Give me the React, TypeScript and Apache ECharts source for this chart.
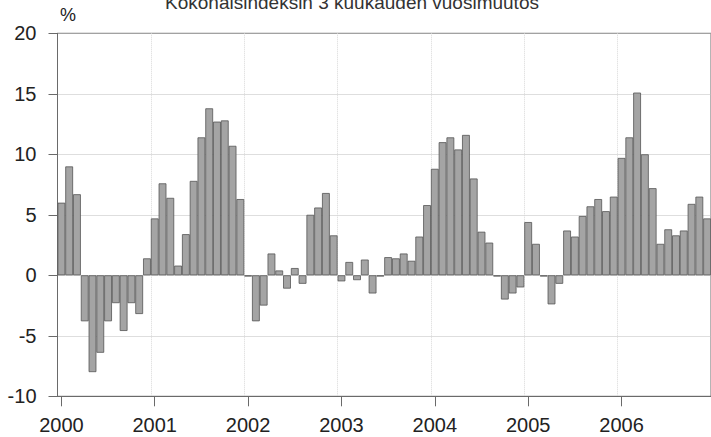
import React, { useEffect, useRef } from "react";
import * as echarts from "echarts";

const years = ["2000", "2001", "2002", "2003", "2004", "2005", "2006"];
const months = ["01", "02", "03", "04", "05", "06", "07", "08", "09", "10", "11", "12"];
const categories: string[] = years.flatMap((y) => months.map((m) => `${y}-${m}`));

const values2000 = [6.0, 9.0, 6.7, -3.8, -8.0, -6.4, -3.8, -2.3, -4.6, -2.3, -3.2, 1.4];
const values2001 = [4.7, 7.6, 6.4, 0.8, 3.4, 7.8, 11.4, 13.8, 12.7, 12.8, 10.7, 6.3];
const values2002 = [-0.1, -3.8, -2.5, 1.8, 0.4, -1.1, 0.6, -0.7, 5.0, 5.6, 6.8, 3.3];
const values2003 = [-0.5, 1.1, -0.4, 1.3, -1.5, -0.1, 1.5, 1.4, 1.8, 1.2, 3.2, 5.8];
const values2004 = [8.8, 11.0, 11.4, 10.4, 11.6, 8.0, 3.6, 2.7, -0.1, -2.0, -1.5, -1.0];
const values2005 = [4.4, 2.6, -0.1, -2.4, -0.7, 3.7, 3.2, 4.9, 5.7, 6.3, 5.3, 6.5];
const values2006 = [9.7, 11.4, 15.1, 10.0, 7.2, 2.6, 3.8, 3.3, 3.7, 5.9, 6.5, 4.7];

const values = [
  ...values2000,
  ...values2001,
  ...values2002,
  ...values2003,
  ...values2004,
  ...values2005,
  ...values2006,
];

const titleText = "Kokonaisindeksin 3 kuukauden vuosimuutos";
const unitText = "%";

const FONT = "'Liberation Sans', Arial, sans-serif";

export default function App() {
  const ref = useRef<HTMLDivElement>(null);
  useEffect(() => {
    if (!ref.current) return;
    const chart = echarts.init(ref.current, null, { renderer: "svg" });
    const isJan = (i: number) => i % 12 === 0;
    chart.setOption({
      animation: false,
      backgroundColor: "#ffffff",
      grid: {
        left: 57.5,
        right: -6,
        top: 33.3,
        bottom: 40.7,
        show: true,
        borderColor: "#6a6a6a",
        borderWidth: 1,
        backgroundColor: "transparent",
      },
      graphic: [
        {
          type: "text",
          x: 352,
          y: 12,
          style: {
            text: titleText,
            font: `19px ${FONT}`,
            fill: "#333",
            align: "center",
            verticalAlign: "bottom",
          },
        },
        {
          type: "text",
          x: 68,
          y: 15,
          style: {
            text: unitText,
            font: `18px ${FONT}`,
            fill: "#222",
            align: "center",
            verticalAlign: "middle",
          },
        },
      ],
      xAxis: {
        type: "category",
        data: categories,
        boundaryGap: true,
        axisLine: { onZero: false, lineStyle: { color: "#6a6a6a", width: 1 } },
        axisTick: {
          show: true,
          alignWithLabel: true,
          interval: (i: number) => isJan(i),
          length: 10,
          lineStyle: { color: "#6a6a6a" },
        },
        axisLabel: {
          interval: (i: number) => isJan(i),
          formatter: (v: string) => v.slice(0, 4),
          fontFamily: FONT,
          fontSize: 20,
          color: "#222",
          margin: 19,
        },
        splitLine: {
          show: true,
          interval: (i: number) => isJan(i),
          lineStyle: { color: "#d8d8d8", type: "dotted", width: 1 },
        },
      },
      yAxis: {
        type: "value",
        min: -10,
        max: 20,
        interval: 5,
        axisLine: { show: true, lineStyle: { color: "#6a6a6a", width: 1 } },
        axisTick: { show: true, length: 9, lineStyle: { color: "#6a6a6a" } },
        axisLabel: {
          fontFamily: FONT,
          fontSize: 20,
          color: "#222",
          margin: 21,
        },
        splitLine: {
          show: true,
          lineStyle: { color: "#bdbdbd", type: "dotted", width: 1 },
        },
      },
      series: [
        {
          type: "bar",
          data: values,
          barCategoryGap: "0%",
          itemStyle: {
            color: "#a4a4a4",
            borderColor: "#555555",
            borderWidth: 0.8,
          },
        },
      ],
    });
    return () => chart.dispose();
  }, []);
  return (
    <div
      ref={ref}
      style={{ position: "absolute", left: 0, top: 0, width: 711, height: 437 }}
    />
  );
}
